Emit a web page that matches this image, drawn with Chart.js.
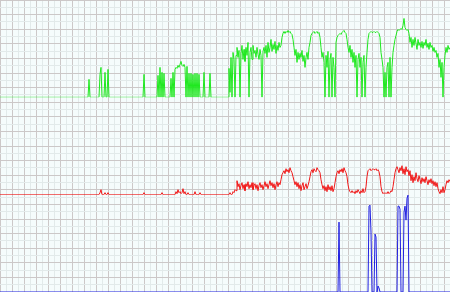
<!DOCTYPE html>
<html>
<head>
<meta charset="utf-8">
<script src="https://cdn.jsdelivr.net/npm/chart.js@4/dist/chart.umd.min.js"></script>
<style>
html,body{margin:0;padding:0;background:#f5fcfc;}
#wrap{width:450px;height:292px;}
</style>
</head>
<body>
<div id="wrap"><canvas id="c" width="450" height="292"></canvas></div>
<script>
// ---- data (x = sample index, y = level within each band) ----
const greenEarlyX = [0,88,89,90,99,100,101,102,104,105,106,107,108,109,143,144,145,157,158,159,160,161,162,163,164,165,170,171,172,173,174,175,176,177,178,179,180,181,182,183,184,185,186,187,188,189,190,191,192,193,194,195,196,197,198,199,200,203,204,205,209,210,211,227];
const greenEarlyY = [0,0,18,0,0,23,30,0,0,25,0,0,28,0,0,23,0,0,22,0,30,0,25,0,24,0,0,19,0,25,0,28,30,29,32,30,33,36,32,31,33,30,0,31,0,24,0,24,0,23,0,24,0,24,0,23,0,0,25,0,0,24,0,0];
const greenDenseStart = 228;
const greenDense = [0,29,5,40,0,45,38,0,42,50,40,47,0,44,52,38,48,36,50,42,55,0,45,50,38,52,44,47,40,50,43,38,48,42,0,46,50,44,52,40,55,45,50,58,46,53,48,56,44,52,47,55,50,52,
60,64,66,64,66,65,67,65,66,64,63,58,50,42,48,35,45,38,44,40,47,36,42,30,40,45,38,50,55,62,
64,65,66,64,65,66,64,65,60,50,40,45,35,0,42,30,46,0,38,44,0,40,30,0,55,60,62,63,64,63,65,66,67,65,64,58,50,45,52,40,48,35,45,30,42,0,38,44,30,40,0,35,42,0,30,45,58,
64,65,66,65,65,66,65,65,66,65,64,60,45,38,30,0,25,0,30,35,0,40,0,30,45,52,58,62,66,68,67,68,69,68,72,79,70,68,67,68,64,55,60,50,58,52,60,54,48,58,52,55,50,56,49,55,52,58,50,54,48,55,50,52,46,50,45,47,40,44,30,38,20,35,0,30,42,50,45,52,48,50];

const redEarlyX = [0,99,100,101,102,104,105,106,107,108,109,143,144,145,161,162,163,175,176,177,178,179,180,181,182,183,184,185,186,187,188,189,194,195,196,199,200,201,229,230,231,232];
const redEarlyY = [0,0,2,5,0,0,2,0,0,2,0,0,2,0,0,2,0,0,3,1,5,2,3,1,2,6,1,3,0,0,2,0,0,3,0,0,2,0,0,2,0,0];
const redDenseStart = 233;
const redDense = [3,2,5,4,14,8,11,5,9,12,6,10,4,11,8,13,6,10,7,12,5,9,11,6,10,4,9,12,7,10,5,9,13,8,11,6,10,14,9,12,7,11,5,10,13,8,12,10,15,
20,22,24,21,26,23,25,22,27,24,22,18,14,10,13,8,12,6,10,4,9,12,5,8,11,6,9,13,18,
23,25,22,26,24,23,27,25,24,22,15,10,6,9,4,8,3,10,5,8,4,9,3,6,12,18,22,24,21,25,23,26,22,27,24,22,18,
10,5,3,2,4,2,3,1,4,2,5,3,1,4,2,6,2,3,8,18,
24,25,26,24,25,26,25,25,26,24,25,23,18,8,3,1,2,1,2,1,3,1,2,4,3,8,15,
22,26,28,25,22,27,24,29,21,26,20,28,23,25,19,24,14,20,12,18,14,22,16,13,19,15,11,17,13,16,12,18,14,10,15,12,16,11,14,9,13,8,12,6,3,1,5,2,8,2,5,10,14,12,15,13];

const blueX = [0,338,339,340,368,369,370,371,372,374,375,376,377,378,379,380,397,398,399,400,401,403,404,405,406,407,408,409,450];
const blueY = [0,0,70,0,0,86,87,60,0,0,58,55,0,6,4,0,0,86,86,83,0,0,80,86,72,94,97,0,0];

// ---- build point lists from the arrays ----
function pairs(xs, ys){ return xs.map((x,i)=>({x:x, y:ys[i]})); }
function dense(start, vals){ return vals.map((v,i)=>({x:start+i, y:v})); }
const greenData = pairs(greenEarlyX, greenEarlyY).concat(dense(greenDenseStart, greenDense));
const redData = pairs(redEarlyX, redEarlyY).concat(dense(redDenseStart, redDense));
const blueData = pairs(blueX, blueY);

const gridDark = '#ccc8c8';
const gridLight = '#e2eaea';
const altColor = (ctx) => (ctx.index % 2 === 0 ? gridDark : gridLight);
const hiddenAxis = (extra) => Object.assign({
  type:'linear', position:'left', min:0, max:97.5,
  ticks:{display:false}, grid:{display:false, drawTicks:false}, border:{display:false}
}, extra);

new Chart(document.getElementById('c'), {
  type:'line',
  data:{
    datasets:[
      {data:greenData, yAxisID:'yG', borderColor:'#1fe81f', borderWidth:1},
      {data:redData, yAxisID:'yR', borderColor:'#f01818', borderWidth:1},
      {data:blueData, yAxisID:'yB', borderColor:'#2020e0', borderWidth:1}
    ]
  },
  options:{
    responsive:false, animation:false, devicePixelRatio:1,
    layout:{padding:0},
    elements:{point:{radius:0}, line:{tension:0}},
    plugins:{legend:{display:false}, tooltip:{enabled:false}},
    scales:{
      x:{type:'linear', min:0, max:450,
         ticks:{display:false, stepSize:6},
         grid:{color:altColor, drawTicks:false, lineWidth:1},
         border:{display:false}},
      yGrid:{type:'linear', position:'left', min:0, max:40,
         ticks:{display:false, stepSize:1},
         grid:{color:altColor, drawTicks:false, lineWidth:1},
         border:{display:false}},
      yB: hiddenAxis({stack:'bands', stackWeight:1}),
      yR: hiddenAxis({stack:'bands', stackWeight:1}),
      yG: hiddenAxis({stack:'bands', stackWeight:1})
    }
  }
});
</script>
</body>
</html>
